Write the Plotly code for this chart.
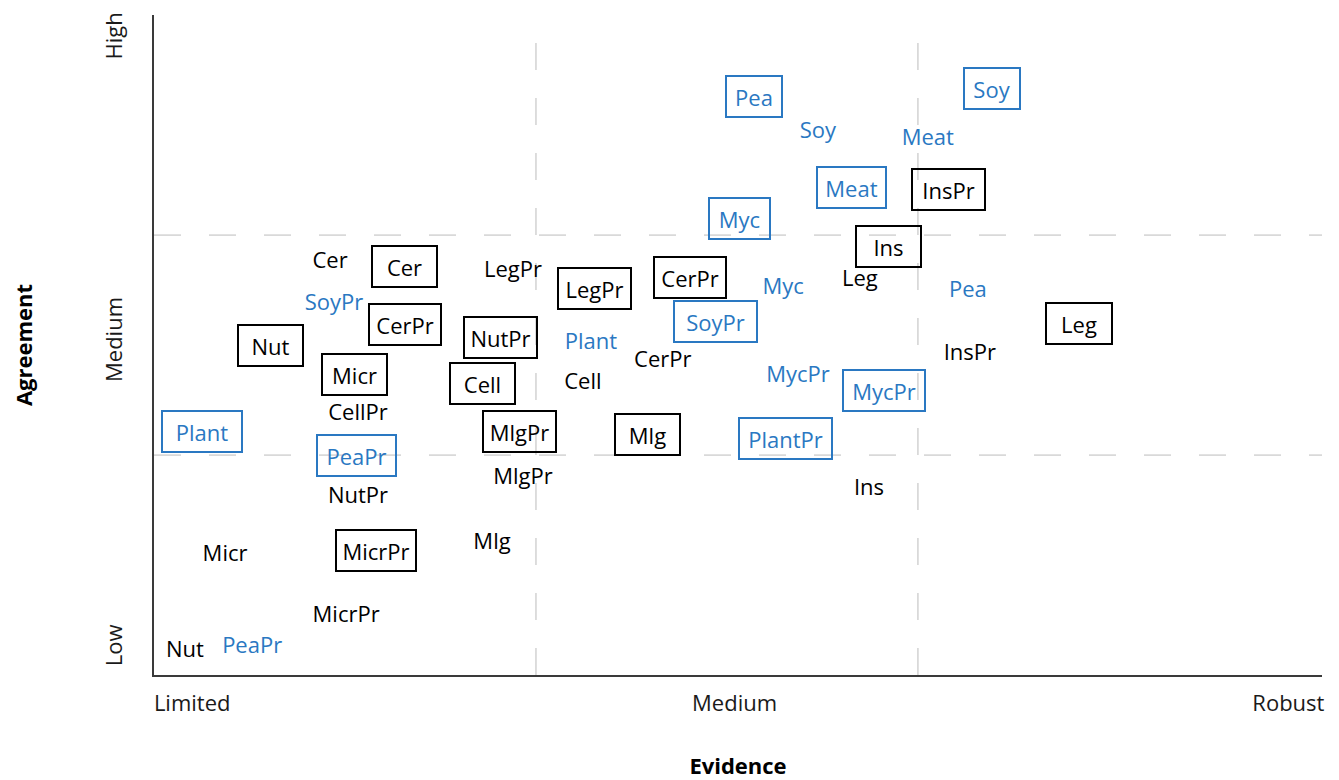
import plotly.graph_objects as go

# ---------------- data ----------------
plain_black_labels = ["Cer", "LegPr", "Leg", "CerPr", "Cell", "InsPr", "CellPr",
                      "NutPr", "MlgPr", "Ins", "Mlg", "Micr", "MicrPr", "Nut"]
plain_black_x = [0.461, 0.940, 1.848, 1.332, 1.123, 2.136, 0.534,
                 0.534, 0.966, 1.872, 0.885, 0.186, 0.503, 0.081]
plain_black_y = [1.877, 1.836, 1.791, 1.423, 1.327, 1.459, 1.182,
                 0.809, 0.891, 0.845, 0.600, 0.541, 0.268, 0.105]

plain_blue_labels = ["Soy", "Meat", "SoyPr", "Myc", "Pea", "Plant", "MycPr", "PeaPr"]
plain_blue_x = [1.738, 2.026, 0.471, 1.647, 2.131, 1.144, 1.686, 0.257]
plain_blue_y = [2.464, 2.436, 1.686, 1.759, 1.741, 1.505, 1.359, 0.127]

boxed_black_labels = ["Cer", "InsPr", "Ins", "LegPr", "CerPr", "Nut", "CerPr",
                      "NutPr", "Micr", "Cell", "MlgPr", "Mlg", "MicrPr", "Leg"]
boxed_black_x = [0.657, 2.081, 1.924, 1.152, 1.403, 0.306, 0.657,
                 0.908, 0.526, 0.861, 0.958, 1.293, 0.581, 2.421]
boxed_black_y = [1.855, 2.209, 1.950, 1.755, 1.805, 1.500, 1.595,
                 1.536, 1.364, 1.323, 1.109, 1.095, 0.564, 1.600]

boxed_blue_labels = ["Pea", "Soy", "Meat", "Myc", "SoyPr", "MycPr", "PlantPr", "Plant", "PeaPr"]
boxed_blue_x = [1.571, 2.194, 1.827, 1.534, 1.471, 1.911, 1.654, 0.126, 0.529]
boxed_blue_y = [2.630, 2.668, 2.218, 2.073, 1.609, 1.291, 1.077, 1.105, 1.000]

x_tick_labels = ["Limited", "Medium", "Robust"]
x_tick_vals = [0.10, 1.52, 2.97]
y_tick_labels = ["Low", "Medium", "High"]
y_tick_vals = [0.12, 1.51, 2.89]

evidence_thresholds = [1, 2]
agreement_thresholds = [1, 2]
x_range = [0, 3.058]
y_range = [0, 3]

# ---------------- styles ----------------
FONT = "Open Sans"
FS = 22
BLACK = "#000000"
BLUE = "#2A78C2"
GRID = "#D9D9D9"
BOX_W = {  # outer box widths in px (style)
    "Cer": 67, "InsPr": 75, "Ins": 67, "LegPr": 75, "CerPr": 74, "Nut": 67,
    "NutPr": 75, "Micr": 67, "Cell": 67, "MlgPr": 75, "Mlg": 67, "MicrPr": 82,
    "Leg": 68, "Pea": 58, "Soy": 58, "Meat": 71, "Myc": 63, "SoyPr": 85,
    "MycPr": 84, "PlantPr": 95, "Plant": 82, "PeaPr": 81,
}
BOX_H = 43
BW = 2

fig = go.Figure()

fig.add_trace(go.Scatter(
    x=plain_black_x, y=plain_black_y, text=plain_black_labels, mode="text",
    textposition="middle center", textfont=dict(family=FONT, size=FS, color=BLACK),
    hoverinfo="text", showlegend=False))
fig.add_trace(go.Scatter(
    x=plain_blue_x, y=plain_blue_y, text=plain_blue_labels, mode="text",
    textposition="middle center", textfont=dict(family=FONT, size=FS, color=BLUE),
    hoverinfo="text", showlegend=False))

annotations = []
for labels, xs, ys, col in [(boxed_black_labels, boxed_black_x, boxed_black_y, BLACK),
                            (boxed_blue_labels, boxed_blue_x, boxed_blue_y, BLUE)]:
    for t, x, y in zip(labels, xs, ys):
        annotations.append(dict(
            x=x, y=y, xref="x", yref="y", text=t, showarrow=False,
            font=dict(family=FONT, size=FS, color=col),
            bordercolor=col, borderwidth=BW, borderpad=0,
            width=BOX_W[t] - 2 * BW, height=BOX_H - 2 * BW,
            align="center", valign="middle", bgcolor="rgba(255,255,255,0)"))

shapes = []
for xv in evidence_thresholds:
    shapes.append(dict(type="line", xref="x", yref="paper", x0=xv, x1=xv, y0=0, y1=1,
                       line=dict(color=GRID, width=1.75, dash="27px,28px"), layer="below"))
for yv in agreement_thresholds:
    shapes.append(dict(type="line", xref="paper", yref="y", x0=0, x1=1, y0=yv, y1=yv,
                       line=dict(color=GRID, width=1.75, dash="27px,28px"), layer="below"))

fig.update_layout(
    width=1331, height=772,
    margin=dict(l=146, r=17, t=7, b=105, autoexpand=False),
    plot_bgcolor="white", paper_bgcolor="white",
    font=dict(family=FONT, size=FS, color="#1a1a1a"),
    annotations=annotations, shapes=shapes,
    xaxis=dict(range=x_range, showgrid=False, zeroline=False, showline=True,
               automargin=False, ticklabeloverflow="allow",
               linecolor="#3a3a3a", linewidth=2, tickmode="array",
               tickvals=x_tick_vals, ticktext=x_tick_labels, ticks="",
               ticklabelstandoff=8,
               tickfont=dict(family=FONT, size=FS, color="#1a1a1a"),
               title=dict(text="<b>Evidence</b>", standoff=46,
                          font=dict(family=FONT, size=FS, color="#000000"))),
    yaxis=dict(range=y_range, showgrid=False, zeroline=False, showline=True,
               automargin=False, ticklabeloverflow="allow",
               linecolor="#3a3a3a", linewidth=2, tickmode="array",
               tickvals=y_tick_vals, ticktext=y_tick_labels, ticks="",
               tickangle=-90, ticklabelstandoff=21,
               tickfont=dict(family=FONT, size=FS, color="#1a1a1a"),
               title=dict(text="<b>Agreement</b>", standoff=69,
                          font=dict(family=FONT, size=FS, color="#000000"))),
)

fig.write_html("out.html")
